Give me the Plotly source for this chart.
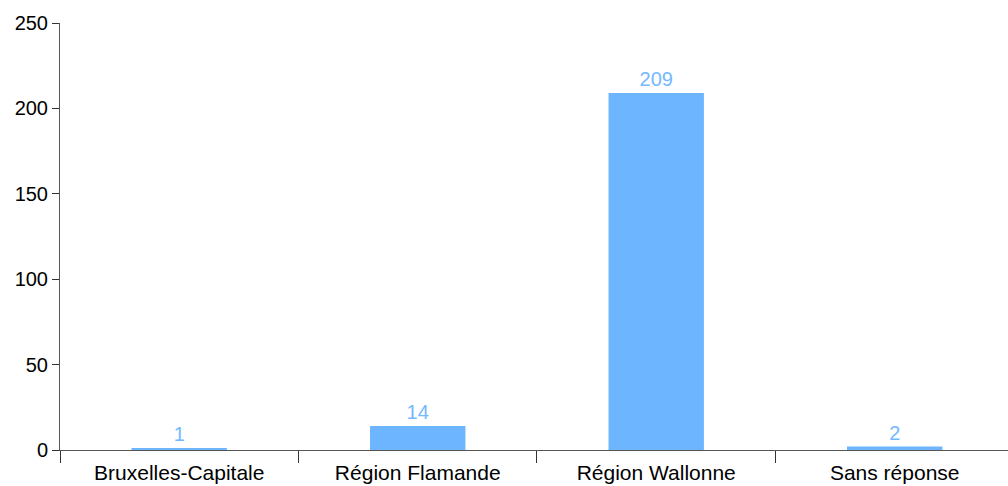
import plotly.graph_objects as go

categories = ["Bruxelles-Capitale", "Région Flamande", "Région Wallonne", "Sans réponse"]
values = [1, 14, 209, 2]
y_ticks = [0, 50, 100, 150, 200, 250]

bar_color = "#6db6ff"
FONT = "Liberation Sans, Arial, sans-serif"

fig = go.Figure(go.Bar(
    x=categories, y=values, width=0.4,
    marker=dict(color=bar_color, line=dict(width=0)),
    text=[str(v) for v in values], textposition="outside",
    textfont=dict(color="#74b9ff", size=20, family=FONT),
    cliponaxis=False,
))

fig.update_layout(
    width=1008, height=486,
    margin=dict(l=60, r=0, t=23, b=36, autoexpand=False),
    plot_bgcolor="white", paper_bgcolor="white",
    showlegend=False,
    font=dict(family=FONT, size=20, color="#000"),
)
fig.update_xaxes(
    type="category", range=[-0.5, 3.475], tickson="boundaries",
    showline=True, linecolor="#555", linewidth=1,
    ticks="outside", ticklen=12, tickcolor="#333", tickwidth=1,
    tickfont=dict(size=21), ticklabelstandoff=4,
    showgrid=False, zeroline=False,
)
fig.update_yaxes(
    range=[0, 250], tickvals=y_ticks,
    showline=True, linecolor="#555", linewidth=1,
    ticks="outside", ticklen=7, tickcolor="#333", tickwidth=1,
    tickfont=dict(size=20),
    showgrid=False, zeroline=False, ticklabelstandoff=0,
)

fig.write_html(
    "out.html",
    config={"displayModeBar": False},
    post_script="document.body.style.margin='0';document.body.style.overflow='hidden';",
)
